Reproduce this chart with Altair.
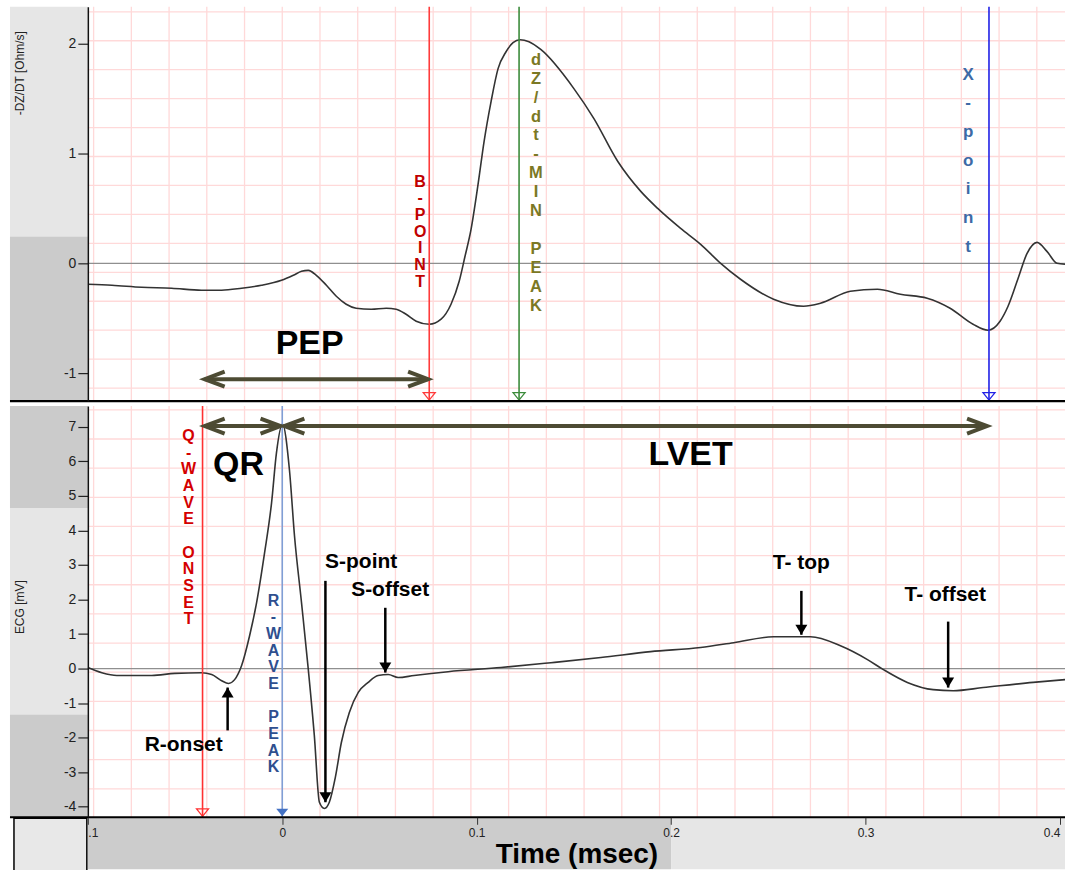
import altair as alt
import pandas as pd

# ---------------- data ----------------
dz_time = [-0.1000, -0.0876, -0.0723, -0.0569, -0.0415, -0.0312, -0.0209, -0.0107, -0.0004,
           0.0057, 0.0099, 0.0134, 0.0175, 0.0227, 0.0278, 0.0329, 0.0380, 0.0458, 0.0535,
           0.0586, 0.0637, 0.0689, 0.0756, 0.0817, 0.0868, 0.0910, 0.0940, 0.0971, 0.1007,
           0.1038, 0.1074, 0.1110, 0.1151, 0.1187, 0.1223, 0.1269, 0.1331, 0.1500, 0.1603,
           0.1726, 0.1844, 0.1931, 0.2049, 0.2152, 0.2255, 0.2357, 0.2527, 0.2681, 0.2768,
           0.2922, 0.3061, 0.3179, 0.3317, 0.3435, 0.3553, 0.3630, 0.3692, 0.3733, 0.3785,
           0.3831, 0.3882, 0.3933, 0.3985, 0.4026]
dz_value = [-0.191, -0.200, -0.218, -0.227, -0.245, -0.245, -0.227, -0.200, -0.155,
            -0.109, -0.073, -0.064, -0.109, -0.200, -0.300, -0.373, -0.409, -0.418, -0.409,
            -0.418, -0.464, -0.527, -0.555, -0.509, -0.373, -0.164, 0.064, 0.309, 0.718,
            1.109, 1.473, 1.773, 1.927, 2.009, 2.036, 2.018, 1.945, 1.591, 1.318,
            0.927, 0.655, 0.500, 0.318, 0.173, 0.000, -0.145, -0.327, -0.391, -0.364,
            -0.255, -0.236, -0.282, -0.318, -0.409, -0.555, -0.609, -0.527, -0.391, -0.136,
            0.091, 0.191, 0.109, 0.000, -0.009]

ecg_time = [-0.1000, -0.0928, -0.0851, -0.0671, -0.0553, -0.0415, -0.0363, -0.0312, -0.0276,
            -0.0245, -0.0209, -0.0168, -0.0132, -0.0091, -0.0055, -0.0030, 0.0001, 0.0037,
            0.0063, 0.0099, 0.0134, 0.0165, 0.0191, 0.0217, 0.0242, 0.0273, 0.0304, 0.0345,
            0.0391, 0.0442, 0.0493, 0.0545, 0.0596, 0.0678, 0.0853, 0.1125, 0.1382, 0.1639,
            0.1895, 0.2152, 0.2322, 0.2527, 0.2717, 0.2871, 0.3010, 0.3092, 0.3215, 0.3348,
            0.3451, 0.3605, 0.3862, 0.4026]
ecg_value = [0.03, -0.12, -0.20, -0.20, -0.14, -0.12, -0.17, -0.35, -0.43,
             -0.32, 0.09, 0.95, 1.91, 3.35, 4.80, 6.24, 7.08, 5.75,
             3.84, 1.91, -0.03, -1.94, -3.87, -4.05, -3.87, -3.15, -2.14, -1.27,
             -0.69, -0.40, -0.20, -0.17, -0.26, -0.20, -0.09, 0.03, 0.17, 0.32,
             0.49, 0.61, 0.75, 0.92, 0.92, 0.66, 0.26, -0.03, -0.40, -0.61,
             -0.64, -0.55, -0.40, -0.32]

x_ticks = [-0.1, 0.0, 0.1, 0.2, 0.3, 0.4]
dz_ticks = [-1, 0, 1, 2]
ecg_ticks = [-4, -3, -2, -1, 0, 1, 2, 3, 4, 5, 6, 7]

# event markers (vertical lines)
dz_marker_names = ["B-point", "dZ/dt-min peak", "X-point"]
dz_marker_time = [0.0756, 0.1218, 0.3635]
ecg_marker_names = ["Q-wave onset", "R-wave peak"]
ecg_marker_time = [-0.041, 0.0]

# vertical (stacked-letter) labels: lines ("" = blank line), anchor time, value of first letter
dz_vlabels = [["B", "-", "P", "O", "I", "N", "T"],
              ["d", "Z", "/", "d", "t", "-", "M", "I", "N", "", "P", "E", "A", "K"],
              ["X", "-", "p", "o", "i", "n", "t"]]
dz_vlabel_time = [0.0709, 0.1305, 0.3528]
dz_vlabel_value = [0.745, 1.855, 1.718]
ecg_vlabels = [["Q", "-", "W", "A", "V", "E", "", "O", "N", "S", "E", "T"],
               ["R", "-", "W", "A", "V", "E", "", "P", "E", "A", "K"]]
ecg_vlabel_time = [-0.0482, -0.0045]
ecg_vlabel_value = [6.734, 1.965]

# intervals (double arrows)
interval_names = ["PEP", "QR", "LVET"]
interval_start = [-0.0399, -0.0399, 0.0011]
interval_end = [0.0750, -0.0009, 0.3625]
interval_value = [-1.055, 7.023, 7.023]
interval_label_time = [0.0141, -0.0225, 0.210]
interval_label_value = [-0.736, 5.896, 6.185]

# ECG point annotations (single arrows)
ann_names = ["R-onset", "S-point", "S-offset", "T- top", "T- offset"]
ann_time = [-0.0281, 0.0222, 0.0530, 0.267, 0.3425]
ann_tail = [-1.79, 2.54, 1.76, 2.25, 1.36]
ann_tip = [-0.55, -3.87, -0.116, 0.98, -0.55]
ann_label_time = [-0.0507, 0.0406, 0.0555, 0.267, 0.341]
ann_label_value = [-2.20, 3.09, 2.28, 3.06, 2.14]

# ---------------- layout / style ----------------
W = 979
H_TOP = 395
H_BOT = 412
X_DOMAIN = [-0.1, 0.4026]
TOP_DOMAIN = [-1.2545, 2.336]
BOT_DOMAIN = [-4.306, 7.601]
PPU_TOP = H_TOP / (TOP_DOMAIN[1] - TOP_DOMAIN[0])   # pixels per unit
PPU_BOT = H_BOT / (BOT_DOMAIN[1] - BOT_DOMAIN[0])
FONT = "Liberation Sans"
GRID_COLOR = "#ffd9d9"
ARROW_COLOR = "#4d4b33"

# background grid (ECG-paper style, independent of the tick values)
vgrid = [k * 0.019405 for k in range(-5, 21)]
hgrid_top = [v for v in [-0.0818 + k * 0.2636 for k in range(-5, 11)] if TOP_DOMAIN[0] < v < TOP_DOMAIN[1]]
hgrid_bot = [v for v in [6.647 - k * 0.844 for k in range(-1, 15)] if BOT_DOMAIN[0] < v < BOT_DOMAIN[1]]

xs = alt.Scale(domain=X_DOMAIN, nice=False, zero=False)
ys_top = alt.Scale(domain=TOP_DOMAIN, nice=False, zero=False)
ys_bot = alt.Scale(domain=BOT_DOMAIN, nice=False, zero=False)

CHEV_L = "M 2 -0.75 L 0 0 L 2 0.75"
CHEV_R = "M -2 -0.75 L 0 0 L -2 0.75"
TRI_DOWN_OPEN = "M -0.6 -0.75 L 0.6 -0.75 L 0 0 Z"
HEAD_DOWN = "M -0.6 -1 L 0.6 -1 L 0 0 Z"
HEAD_UP = "M -0.6 1 L 0.6 1 L 0 0 Z"


def yaxis(title, values, title_y):
    return alt.Axis(values=values, labelExpr="'' + datum.value", tickSize=10, tickColor="#222",
                    tickWidth=1.2, domainColor="#111", domainWidth=1.5, labelFontSize=14,
                    labelColor="#222", labelPadding=2, grid=False, title=title,
                    titleFontSize=12, titleFontWeight="normal", titleColor="#222",
                    titleAngle=270, titleX=-68, titleY=title_y, titleAlign="center",
                    titleBaseline="middle", zindex=2)


AX_TOP_Y = yaxis("-DZ/DT [Ohm/s]", dz_ticks, 66)
AX_BOT_Y = yaxis("ECG [mV]", ecg_ticks, 201)
AX_TOP_X = alt.Axis(labels=False, ticks=False, domain=False, grid=False, title=None)
AX_BOT_X = alt.Axis(values=x_ticks, labelExpr="datum.value < -0.05 ? '.1' : '' + datum.value",
                    tickSize=7, tickColor="#333", labelFontSize=12, labelColor="#222", labelPadding=3,
                    labelFlush=8, domain=False, grid=False, title="Time (msec)", titleFontSize=28,
                    titleFontWeight="bold", titleColor="black", titlePadding=2, zindex=2)


def panel_common(ys, ax_x, ax_y, hgrid, height, bands):
    layers = []
    bdf = pd.DataFrame(bands, columns=["y", "y2", "c"])
    layers.append(alt.Chart(bdf).mark_rect().encode(
        x=alt.value(-78), x2=alt.value(0),
        y=alt.Y("y:Q", scale=ys, axis=ax_y), y2="y2:Q",
        color=alt.Color("c:N", scale=None)))
    layers.append(alt.Chart(pd.DataFrame({"g": vgrid})).mark_rule(color=GRID_COLOR, strokeWidth=1.3).encode(
        x=alt.X("g:Q", scale=xs, axis=ax_x), y=alt.value(0), y2=alt.value(height)))
    layers.append(alt.Chart(pd.DataFrame({"g": hgrid})).mark_rule(color=GRID_COLOR, strokeWidth=1.3).encode(
        y=alt.Y("g:Q", scale=ys, axis=ax_y), x=alt.value(0), x2=alt.value(W)))
    layers.append(alt.Chart(pd.DataFrame({"z": [0]})).mark_rule(color="#8f8f8f", strokeWidth=1.3).encode(
        y=alt.Y("z:Q", scale=ys, axis=ax_y), x=alt.value(0), x2=alt.value(W)))
    return layers


def vlabel(lines, t, v, ys, ppu, ax_x, ax_y, color, lh, size=15):
    # one row per letter, stacked downward from the first letter's centre
    rows = [{"ch": ch, "t": t, "v": v - i * lh / ppu} for i, ch in enumerate(lines) if ch]
    df = pd.DataFrame(rows)
    return alt.Chart(df).mark_text(align="center", baseline="middle", fontSize=size,
                                   fontWeight="bold", color=color).encode(
        x=alt.X("t:Q", scale=xs, axis=ax_x), y=alt.Y("v:Q", scale=ys, axis=ax_y), text="ch:N")


def double_arrow(i, ys, ax_x, ax_y, size=34):
    df = pd.DataFrame({"a": [interval_start[i]], "b": [interval_end[i]], "v": [interval_value[i]]})
    shaft = alt.Chart(df).mark_rule(color=ARROW_COLOR, strokeWidth=4).encode(
        x=alt.X("a:Q", scale=xs, axis=ax_x), x2="b:Q", y=alt.Y("v:Q", scale=ys, axis=ax_y))
    left = alt.Chart(df).mark_point(shape=CHEV_L, size=400, filled=False, color=ARROW_COLOR,
                                    strokeWidth=4, opacity=1).encode(
        x=alt.X("a:Q", scale=xs, axis=ax_x), y=alt.Y("v:Q", scale=ys, axis=ax_y))
    right = alt.Chart(df).mark_point(shape=CHEV_R, size=400, filled=False, color=ARROW_COLOR,
                                     strokeWidth=4, opacity=1).encode(
        x=alt.X("b:Q", scale=xs, axis=ax_x), y=alt.Y("v:Q", scale=ys, axis=ax_y))
    ldf = pd.DataFrame({"label": [interval_names[i]], "t": [interval_label_time[i]],
                        "v": [interval_label_value[i]]})
    label = alt.Chart(ldf).mark_text(fontSize=size, fontWeight="bold", color="black",
                                     baseline="middle", align="center").encode(
        x=alt.X("t:Q", scale=xs, axis=ax_x), y=alt.Y("v:Q", scale=ys, axis=ax_y), text="label:N")
    return [shaft, left, right, label]


# ---------------- top panel: dZ/dt ----------------
top_layers = panel_common(ys_top, AX_TOP_X, AX_TOP_Y, hgrid_top, H_TOP,
                          [(0.245, TOP_DOMAIN[1], "#e6e6e6"), (TOP_DOMAIN[0], 0.245, "#cbcbcb")])

dz_df = pd.DataFrame({"t": dz_time, "v": dz_value})
top_layers.append(alt.Chart(dz_df).mark_line(color="#333333", strokeWidth=1.6, interpolate="monotone",
                                             clip=True).encode(
    x=alt.X("t:Q", scale=xs, axis=AX_TOP_X),
    y=alt.Y("v:Q", scale=ys_top, axis=AX_TOP_Y)))

dz_mk = pd.DataFrame({"name": dz_marker_names, "t": dz_marker_time,
                      "c": ["#ff3b3b", "#3c8c3c", "#2222e6"]})
top_layers.append(alt.Chart(dz_mk).mark_rule(strokeWidth=1.6).encode(
    x=alt.X("t:Q", scale=xs, axis=AX_TOP_X), y=alt.value(0), y2=alt.value(H_TOP),
    color=alt.Color("c:N", scale=None)))
top_layers.append(alt.Chart(dz_mk).mark_point(shape=TRI_DOWN_OPEN, size=400, filled=False,
                                              strokeWidth=1.3, opacity=1).encode(
    x=alt.X("t:Q", scale=xs, axis=AX_TOP_X), y=alt.value(H_TOP - 1),
    color=alt.Color("c:N", scale=None)))

top_layers.append(vlabel(dz_vlabels[0], dz_vlabel_time[0], dz_vlabel_value[0], ys_top, PPU_TOP,
                         AX_TOP_X, AX_TOP_Y, "#c00000", 16.7, 16))
top_layers.append(vlabel(dz_vlabels[1], dz_vlabel_time[1], dz_vlabel_value[1], ys_top, PPU_TOP,
                         AX_TOP_X, AX_TOP_Y, "#7b7824", 19, 16.5))
top_layers.append(vlabel(dz_vlabels[2], dz_vlabel_time[2], dz_vlabel_value[2], ys_top, PPU_TOP,
                         AX_TOP_X, AX_TOP_Y, "#3d6aa6", 28.7, 17))
top_layers += double_arrow(0, ys_top, AX_TOP_X, AX_TOP_Y)
top_layers.append(alt.Chart(pd.DataFrame({"a": [0]})).mark_rule(color="black", strokeWidth=2.2).encode(
    x=alt.value(-78), x2=alt.value(W), y=alt.value(H_TOP)))

top = alt.layer(*top_layers).properties(width=W, height=H_TOP)

# ---------------- bottom panel: ECG ----------------
bot_layers = panel_common(ys_bot, AX_BOT_X, AX_BOT_Y, hgrid_bot, H_BOT,
                          [(4.65, BOT_DOMAIN[1], "#cbcbcb"), (-1.33, 4.65, "#e6e6e6"),
                           (BOT_DOMAIN[0], -1.33, "#cbcbcb")])

# strip under the plot (time axis band)
strip = pd.DataFrame({"a": [X_DOMAIN[0], 0.2], "b": [0.2, X_DOMAIN[1]], "c": ["#cccccc", "#e6e6e6"]})
bot_layers.append(alt.Chart(strip).mark_rect().encode(
    x=alt.X("a:Q", scale=xs, axis=AX_BOT_X), x2="b:Q", y=alt.value(H_BOT), y2=alt.value(H_BOT + 52),
    color=alt.Color("c:N", scale=None)))
bot_layers.append(alt.Chart(pd.DataFrame({"a": [0]})).mark_rect(
    fill="#e8e8e8", stroke="black", strokeWidth=1.5).encode(
    x=alt.value(-74), x2=alt.value(-1), y=alt.value(H_BOT + 1), y2=alt.value(H_BOT + 56)))

ecg_df = pd.DataFrame({"t": ecg_time, "v": ecg_value})
bot_layers.append(alt.Chart(ecg_df).mark_line(color="#333333", strokeWidth=1.6, interpolate="monotone",
                                              clip=True).encode(
    x=alt.X("t:Q", scale=xs, axis=AX_BOT_X),
    y=alt.Y("v:Q", scale=ys_bot, axis=AX_BOT_Y)))

ecg_mk = pd.DataFrame({"name": ecg_marker_names, "t": ecg_marker_time, "c": ["#ff3030", "#7f9fd6"]})
bot_layers.append(alt.Chart(ecg_mk).mark_rule(strokeWidth=1.6).encode(
    x=alt.X("t:Q", scale=xs, axis=AX_BOT_X), y=alt.value(0), y2=alt.value(H_BOT),
    color=alt.Color("c:N", scale=None)))
bot_layers.append(alt.Chart(ecg_mk.iloc[[0]]).mark_point(shape=TRI_DOWN_OPEN, size=400, filled=False,
                                                         strokeWidth=1.3, opacity=1, color="#ff3030").encode(
    x=alt.X("t:Q", scale=xs, axis=AX_BOT_X), y=alt.value(H_BOT - 1)))
bot_layers.append(alt.Chart(ecg_mk.iloc[[1]]).mark_point(shape=TRI_DOWN_OPEN, size=400, filled=True,
                                                         opacity=1, color="#4472c4").encode(
    x=alt.X("t:Q", scale=xs, axis=AX_BOT_X), y=alt.value(H_BOT - 1)))

bot_layers.append(vlabel(ecg_vlabels[0], ecg_vlabel_time[0], ecg_vlabel_value[0], ys_bot, PPU_BOT,
                         AX_BOT_X, AX_BOT_Y, "#d40000", 16.7, 16))
bot_layers.append(vlabel(ecg_vlabels[1], ecg_vlabel_time[1], ecg_vlabel_value[1], ys_bot, PPU_BOT,
                         AX_BOT_X, AX_BOT_Y, "#2f4f8f", 16.7, 16))

bot_layers += double_arrow(1, ys_bot, AX_BOT_X, AX_BOT_Y)
bot_layers += double_arrow(2, ys_bot, AX_BOT_X, AX_BOT_Y)

ann = pd.DataFrame({"name": ann_names, "t": ann_time, "tail": ann_tail, "tip": ann_tip,
                    "lt": ann_label_time, "lv": ann_label_value})
bot_layers.append(alt.Chart(ann).mark_rule(color="black", strokeWidth=2.5).encode(
    x=alt.X("t:Q", scale=xs, axis=AX_BOT_X), y=alt.Y("tail:Q", scale=ys_bot, axis=AX_BOT_Y), y2="tip:Q"))
bot_layers.append(alt.Chart(ann).transform_filter("datum.tip < datum.tail").mark_point(
    shape=HEAD_DOWN, size=400, filled=True, color="black", opacity=1).encode(
    x=alt.X("t:Q", scale=xs, axis=AX_BOT_X), y=alt.Y("tip:Q", scale=ys_bot, axis=AX_BOT_Y)))
bot_layers.append(alt.Chart(ann).transform_filter("datum.tip > datum.tail").mark_point(
    shape=HEAD_UP, size=400, filled=True, color="black", opacity=1).encode(
    x=alt.X("t:Q", scale=xs, axis=AX_BOT_X), y=alt.Y("tip:Q", scale=ys_bot, axis=AX_BOT_Y)))
bot_layers.append(alt.Chart(ann).mark_text(fontSize=21, fontWeight="bold", color="black",
                                           align="center", baseline="middle").encode(
    x=alt.X("lt:Q", scale=xs, axis=AX_BOT_X), y=alt.Y("lv:Q", scale=ys_bot, axis=AX_BOT_Y),
    text="name:N"))

bot_layers.append(alt.Chart(pd.DataFrame({"a": [0]})).mark_rule(color="black", strokeWidth=2).encode(
    x=alt.value(-78), x2=alt.value(W), y=alt.value(H_BOT)))

bottom = alt.layer(*bot_layers).properties(width=W, height=H_BOT)

chart = alt.vconcat(top, bottom, spacing=2).properties(
    padding={"left": 8, "top": 5, "right": 0, "bottom": 0}
).configure(font=FONT).configure_view(stroke=None)

chart.save("out.html", embed_options={"renderer": "svg", "actions": False})
